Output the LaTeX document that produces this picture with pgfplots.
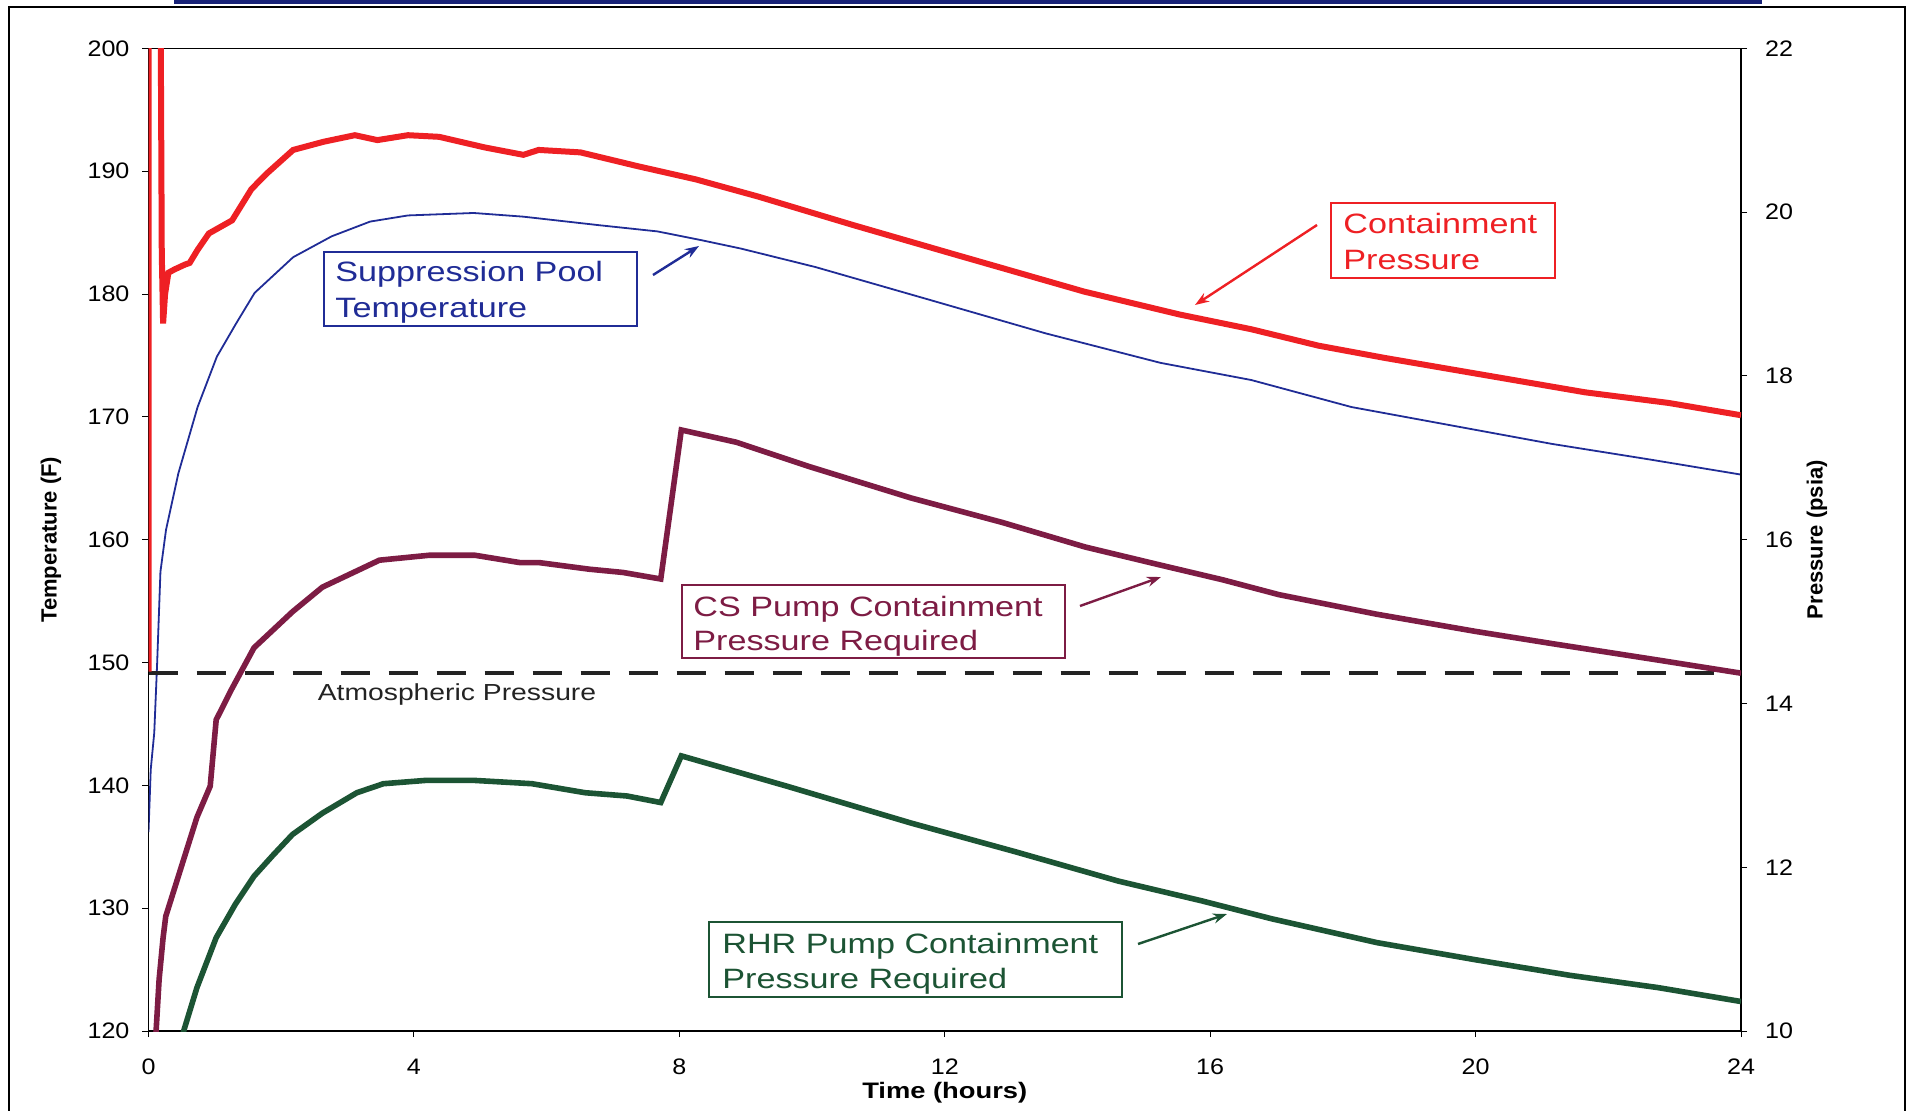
\documentclass[border=0pt]{standalone}
\usepackage{fontspec}
\setmainfont{Liberation Sans}[FakeStretch=1.22]
\newfontfamily\plainsans{Liberation Sans}
\newfontfamily\tickfont{Liberation Sans}[FakeStretch=1.12]
\usepackage{pgfplots}
\pgfplotsset{compat=1.18}
\usetikzlibrary{arrows.meta}
\definecolor{cred}{RGB}{238,32,36}
\definecolor{cblue}{RGB}{32,44,150}
\definecolor{cmaroon}{RGB}{125,28,68}
\definecolor{cgreen}{RGB}{28,84,52}
\definecolor{cbar}{RGB}{25,35,120}
\definecolor{cdash}{RGB}{35,35,35}

\begin{document}
\begin{tikzpicture}
\useasboundingbox (0,0) rectangle (956pt,555pt);
\begin{scope}[x=0.5pt,y=-0.5pt,shift={(0,555pt)}]
\fill[cbar] (174,0) rectangle (1762,4);
\draw[line width=1pt] (8.5,1115) -- (8.5,7) -- (1905,7) -- (1905,1115);
\end{scope}

\pgfplotsset{myaxis/.style={
  scale only axis, width=796.25pt, height=491.3pt,
  at={(74.25pt,39.5pt)}, anchor=south west,
  xmin=0, xmax=24,
  /pgf/number format/assume math mode=true,
  tick align=outside, major tick length=3pt,
  tick style={black, line width=0.5pt},
  axis line style={line width=0.8pt},
  ticklabel style={font=\tickfont\fontsize{11.2}{13}\selectfont},
  label style={font=\plainsans\bfseries\fontsize{11}{13}\selectfont},
}}

\begin{axis}[myaxis,
  ymin=120, ymax=200, ytick={120,130,...,200},
  xtick={0,4,...,24}, xtick pos=bottom, ytick pos=left,
  xticklabel style={yshift=-7.5pt},
  yticklabel style={xshift=-3pt},
  xlabel={\fontsize{11.2}{13}\selectfont Time (hours)},
  ylabel={Temperature (F)},
  xlabel style={at={(axis description cs:0.5,-0.0631)}, anchor=center, font=\bfseries},
  ylabel style={at={(axis description cs:-0.0612,0.5)}, anchor=center},
]
% Suppression pool temperature (F)
\addplot[cblue, line width=0.9pt] coordinates {
(0,136.2) (0.034,141.3) (0.087,144.3) (0.13,149.9) (0.18,157.4) (0.264,160.8)
(0.45,165.4) (0.74,170.8) (1.03,174.9) (1.32,177.6) (1.60,180.1) (2.18,183.0)
(2.76,184.7) (3.34,185.9) (3.91,186.4) (4.90,186.6) (5.65,186.3) (6.80,185.6)
(7.67,185.1) (8.32,184.4) (8.93,183.7) (10.05,182.2) (11.79,179.5) (13.52,176.8)
(15.25,174.4) (16.62,173.0) (18.13,170.8) (19.64,169.3) (21.15,167.8) (22.66,166.5)
(24.0,165.3)};
\end{axis}

\begin{axis}[myaxis,
  ymin=10, ymax=22, ytick={10,12,...,22},
  axis x line=none, axis y line*=right, ytick pos=right,
  yticklabel style={xshift=5.5pt},
  ylabel={Pressure (psia)},
  ylabel style={at={(axis description cs:1.0477,0.5)}, anchor=center, rotate=0},
]
% Atmospheric pressure
\addplot[cdash, line width=2pt, dash pattern=on 14.5pt off 9.5pt] coordinates {(0,14.37) (24,14.37)};
% Containment pressure
\addplot[cred, line width=3pt] coordinates {
(0,14.39) (0.002,23) (0.18,23) (0.20,19.5) (0.22,18.64) (0.25,19.0) (0.30,19.26)
(0.39,19.30) (0.55,19.36) (0.62,19.38) (0.74,19.54) (0.91,19.74) (1.26,19.90)
(1.55,20.28) (1.78,20.47) (2.18,20.76) (2.64,20.86) (3.11,20.94) (3.45,20.88)
(3.91,20.94) (4.38,20.92) (5.07,20.79) (5.65,20.70) (5.88,20.76) (6.51,20.73)
(7.38,20.56) (8.25,20.40) (9.19,20.19) (10.63,19.84) (12.08,19.50) (12.94,19.30)
(14.10,19.03) (15.54,18.75) (16.62,18.57) (17.63,18.37) (18.63,18.22) (20.14,18.01)
(21.65,17.80) (22.91,17.67) (24.0,17.52)};
% CS pump containment pressure required
\addplot[cmaroon, line width=2.8pt] coordinates {
(0.10,9.8) (0.16,10.63) (0.22,11.14) (0.26,11.40) (0.45,11.89) (0.73,12.61)
(0.93,12.99) (1.02,13.80) (1.25,14.17) (1.59,14.68) (2.17,15.12) (2.62,15.42)
(3.48,15.75) (4.23,15.81) (4.92,15.81) (5.60,15.72) (5.89,15.72) (6.64,15.64)
(7.15,15.60) (7.72,15.52) (8.03,17.34) (8.86,17.19) (9.93,16.90) (11.49,16.51)
(12.87,16.21) (14.12,15.91) (15.25,15.69) (16.19,15.51) (17.03,15.33) (18.51,15.09)
(20.0,14.88) (21.16,14.73) (22.75,14.53) (24.0,14.37)};
% RHR pump containment pressure required
\addplot[cgreen, line width=2.8pt] coordinates {
(0.50,9.9) (0.53,10.0) (0.73,10.53) (1.02,11.14) (1.31,11.55) (1.59,11.89)
(1.88,12.15) (2.17,12.40) (2.62,12.66) (3.14,12.91) (3.54,13.02) (4.17,13.06)
(4.92,13.06) (5.78,13.02) (6.58,12.91) (7.21,12.87) (7.72,12.79) (8.03,13.36)
(9.62,12.99) (11.49,12.54) (13.06,12.19) (14.62,11.83) (15.87,11.59) (16.93,11.37)
(18.51,11.08) (20.0,10.87) (21.42,10.68) (22.75,10.53) (24.0,10.36)};
\end{axis}

\begin{scope}[x=0.5pt,y=-0.5pt,shift={(0,555pt)}]
% Suppression pool label
\draw[cblue, line width=1.3pt] (324,252) rectangle (637,326);
\node[text=cblue, anchor=base west, inner sep=0pt, font=\fontsize{14}{16}\selectfont] at (335,282) {Suppression Pool};
\node[text=cblue, anchor=base west, inner sep=0pt, font=\fontsize{14}{16}\selectfont] at (335,318) {Temperature};
\draw[cblue, line width=1.2pt, -{Stealth[length=7pt,width=5pt]}] (653,275) -- (699,246);
% Containment pressure label
\draw[cred, line width=1.3pt] (1331,203) rectangle (1555,278);
\node[text=cred, anchor=base west, inner sep=0pt, font=\fontsize{14}{16}\selectfont] at (1343,234) {Containment};
\node[text=cred, anchor=base west, inner sep=0pt, font=\fontsize{14}{16}\selectfont] at (1343,270) {Pressure};
\draw[cred, line width=1.2pt, -{Stealth[length=7pt,width=5pt]}] (1317,225) -- (1195,305);
% CS label
\draw[cmaroon, line width=1.3pt] (682,585) rectangle (1065,658);
\node[text=cmaroon, anchor=base west, inner sep=0pt, font=\fontsize{14}{16}\selectfont] at (693,616) {CS Pump Containment};
\node[text=cmaroon, anchor=base west, inner sep=0pt, font=\fontsize{14}{16}\selectfont] at (693,651) {Pressure Required};
\draw[cmaroon, line width=1.2pt, -{Stealth[length=7pt,width=5pt]}] (1080,606) -- (1161,577);
% RHR label
\draw[cgreen, line width=1.3pt] (709,922) rectangle (1122,997);
\node[text=cgreen, anchor=base west, inner sep=0pt, font=\fontsize{14}{16}\selectfont] at (722,953) {RHR Pump Containment};
\node[text=cgreen, anchor=base west, inner sep=0pt, font=\fontsize{14}{16}\selectfont] at (722,988) {Pressure Required};
\draw[cgreen, line width=1.2pt, -{Stealth[length=7pt,width=5pt]}] (1138,944) -- (1227,914);
% Atmospheric pressure text
\node[text=cdash, anchor=base, inner sep=0pt, font=\fontsize{11.6}{13}\selectfont] at (457,700) {Atmospheric Pressure};
\end{scope}
\end{tikzpicture}
\end{document}
